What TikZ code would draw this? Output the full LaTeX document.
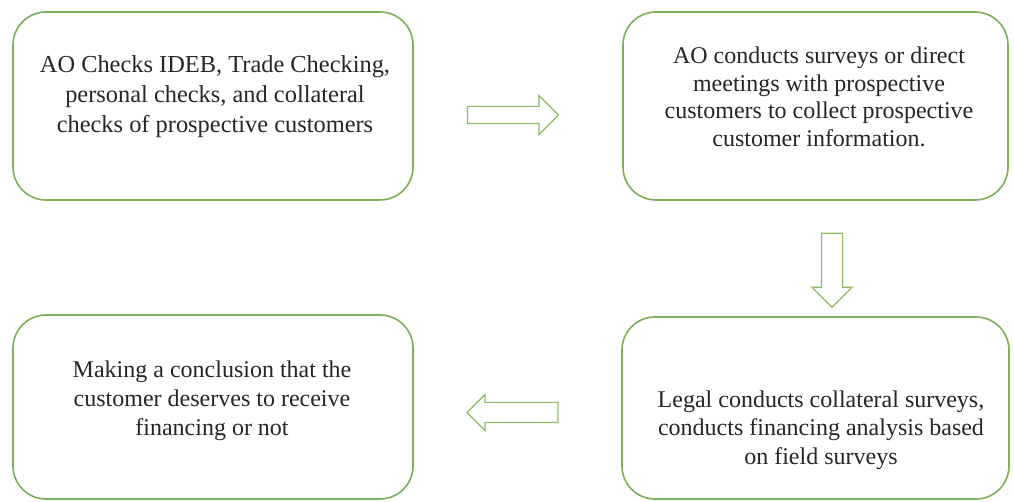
\documentclass[tikz,border=0pt]{standalone}
\usepackage{fontspec}
\setmainfont{Liberation Serif}
\usetikzlibrary{shapes.arrows,calc}
\definecolor{boxgreen}{HTML}{7DAE58}
\definecolor{arrgreen}{HTML}{8DBB68}
\tikzset{
  stepbox/.style={draw=boxgreen, line width=1.6pt, rounded corners=33pt, fill=white},
  steptext/.style={align=center, text=black!85, inner sep=0pt},
  blockarrow/.style={single arrow, draw=arrgreen, line width=1.2pt, fill=white,
    inner xsep=0pt, single arrow head indent=0pt, single arrow tip angle=90}
}
\begin{document}
\begin{tikzpicture}[x=1pt, y=-1pt]
  \useasboundingbox[fill=white] (0,0) rectangle (1014,502);

  % the four process boxes
  \node[stepbox, minimum width=400pt, minimum height=188pt] (b1) at (213,106) {};
  \node[stepbox, minimum width=385pt, minimum height=188pt] (b2) at (815.5,106) {};
  \node[stepbox, minimum width=400pt, minimum height=184pt] (b3) at (213,407) {};
  \node[stepbox, minimum width=387pt, minimum height=182pt] (b4) at (815.5,408) {};

  % box texts
  \node[steptext, font=\fontsize{24.4}{30}\selectfont] (t1) at (215,97)
    {AO Checks IDEB, Trade Checking,\\personal checks, and collateral\\checks of prospective customers};
  \node[steptext, font=\fontsize{24}{27.5}\selectfont] (t2) at (819,97)
    {AO conducts surveys or direct\\meetings with prospective\\customers to collect prospective\\customer information.};
  \node[steptext, font=\fontsize{24}{29}\selectfont] (t3) at (212,401)
    {Making a conclusion that the\\customer deserves to receive\\financing or not};
  \node[steptext, font=\fontsize{24}{28.5}\selectfont] (t4) at (821,430)
    {Legal conducts collateral surveys,\\conducts financing analysis based\\on field surveys};

  % block arrows between the steps
  \node[blockarrow, inner ysep=8pt, single arrow head extend=11pt, minimum height=91pt]
    (a1) at ($(b1.east)!0.47!(b2.west)+(-3,9)$) {};
  \node[blockarrow, rotate=-90, inner ysep=10pt, single arrow head extend=9.5pt, minimum height=74pt]
    (a2) at ($(b2.south)!0.556!(b4.north)+(16.5,0)$) {};
  \node[blockarrow, rotate=180, inner ysep=9.5pt, single arrow head extend=8pt, minimum height=91pt]
    (a3) at ($(b4.west)!0.524!(b3.east)+(5,5)$) {};
\end{tikzpicture}
\end{document}
